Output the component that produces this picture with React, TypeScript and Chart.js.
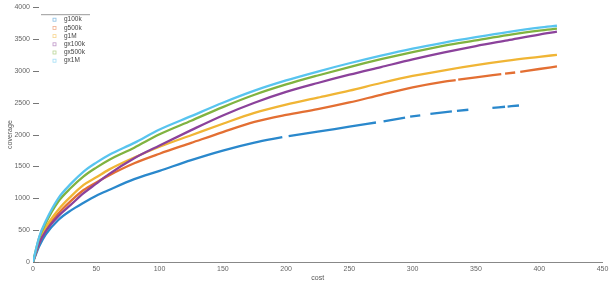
import React, { useEffect, useRef } from "react";
import { Chart, registerables } from "chart.js";

Chart.register(...registerables);

// ---- data ----
const seriesLabels = ["g100k", "g500k", "g1M", "gx100k", "gx500k", "gx1M"];
const seriesColors = ["#2a88cc", "#e36f33", "#f0b535", "#8b429b", "#80b340", "#58c4ef"];

const costs = [0, 5, 10, 20, 30, 40, 50, 60, 80, 100, 125, 150, 175, 200, 225, 250, 275, 300, 325, 350, 375, 400, 414];

const g1M = [0, 330, 540, 820, 1030, 1210, 1330, 1450, 1640, 1810, 1990, 2170, 2340, 2470, 2580, 2690, 2810, 2920, 3010, 3090, 3160, 3220, 3253];
const gx100k = [0, 300, 480, 720, 900, 1080, 1230, 1380, 1630, 1830, 2070, 2300, 2500, 2670, 2810, 2940, 3060, 3180, 3290, 3390, 3480, 3570, 3615];
const gx500k = [0, 385, 610, 950, 1165, 1345, 1482, 1602, 1795, 2005, 2218, 2432, 2625, 2787, 2928, 3060, 3183, 3296, 3398, 3480, 3562, 3633, 3662];
const gx1M = [0, 400, 640, 1000, 1230, 1420, 1560, 1680, 1870, 2080, 2290, 2500, 2690, 2850, 2990, 3120, 3240, 3350, 3445, 3530, 3610, 3680, 3709];

// series with gaps (null = gap)
const g100kCost = [0, 5, 10, 20, 30, 40, 50, 60, 80, 100, 125, 150, 175, 197, 199, 202, 225, 250, 271, 273, 277, 294, 296, 298, 306, 310, 314, 331, 333, 335, 344, 350, 363, 373, 374, 375, 384];
const g100k = [0, 250, 430, 660, 810, 930, 1040, 1130, 1300, 1430, 1600, 1750, 1875, 1960, null, 1975, 2045, 2125, 2190, null, 2206, 2268, null, 2282, 2303, null, 2325, 2365, null, 2372, 2390, null, 2420, 2437, null, 2440, 2457];

const g500kCost = [0, 5, 10, 20, 30, 40, 50, 60, 80, 100, 125, 150, 175, 200, 225, 250, 275, 300, 325, 334, 335, 336, 350, 370, 371, 373, 381, 383, 385, 400, 414];
const g500k = [0, 300, 500, 760, 960, 1130, 1250, 1360, 1550, 1700, 1870, 2040, 2200, 2310, 2400, 2505, 2625, 2740, 2830, 2855, null, 2862, 2900, 2950, null, 2956, 2975, null, 2985, 3030, 3070];

const xMin = 0, xMax = 450, xStep = 50;
const yMin = 0, yMax = 4000, yStep = 500;

const seriesX = [g100kCost, g500kCost, costs, costs, costs, costs];
const seriesY = [g100k, g500k, g1M, gx100k, gx500k, gx1M];

const FONT = "'Liberation Sans', Arial, Helvetica, sans-serif";

const yTickMarks = {
  id: "yTickMarks",
  afterDraw(chart: any) {
    const { ctx, chartArea } = chart;
    const ys = chart.scales.y;
    ctx.save();
    ctx.strokeStyle = "#777";
    ctx.lineWidth = 1;
    ys.ticks.forEach((t: any) => {
      const py = Math.round(ys.getPixelForValue(t.value)) + 0.5;
      ctx.beginPath();
      ctx.moveTo(chartArea.left, py);
      ctx.lineTo(chartArea.left + 6, py);
      ctx.stroke();
    });
    ctx.restore();
  },
};

const customLegend = {
  id: "customLegend",
  afterDraw(chart: any) {
    const { ctx, chartArea } = chart;
    const x0 = chartArea.left + 8;
    const y0 = chartArea.top + 7.5;
    ctx.save();
    ctx.strokeStyle = "#999";
    ctx.lineWidth = 1;
    ctx.beginPath();
    ctx.moveTo(x0, y0);
    ctx.lineTo(x0 + 49, y0);
    ctx.stroke();
    ctx.font = `6.5px ${FONT}`;
    ctx.textBaseline = "middle";
    ctx.textAlign = "left";
    chart.data.datasets.forEach((ds: any, i: number) => {
      const y = y0 + 5 + i * 8.2;
      ctx.strokeStyle = ds.borderColor;
      ctx.globalAlpha = 0.55;
      ctx.lineWidth = 0.8;
      ctx.strokeRect(x0 + 12, y - 1.5, 3, 3);
      ctx.globalAlpha = 1;
      ctx.fillStyle = "#444";
      ctx.fillText(ds.label, x0 + 23, y);
    });
    ctx.restore();
  },
};

export default function App() {
  const ref = useRef<HTMLCanvasElement | null>(null);

  useEffect(() => {
    if (!ref.current) return;
    const datasets = seriesLabels.map((label, i) => ({
      label,
      data: seriesX[i].map((x, j) => ({ x, y: seriesY[i][j] })),
      borderColor: seriesColors[i],
      backgroundColor: seriesColors[i],
      borderWidth: 2.3,
      pointRadius: 0,
      showLine: true,
      spanGaps: false,
      cubicInterpolationMode: "monotone" as const,
      order: seriesLabels.length - i,
    }));

    const chart = new Chart(ref.current, {
      type: "scatter",
      data: { datasets },
      plugins: [yTickMarks, customLegend],
      options: {
        animation: false,
        responsive: true,
        maintainAspectRatio: false,
        layout: { padding: { top: 7, right: 12.5, left: 0, bottom: 0 } },
        plugins: { legend: { display: false }, tooltip: { enabled: false } },
        scales: {
          x: {
            type: "linear",
            min: xMin,
            max: xMax,
            afterFit: (s: any) => { s.height = 23; },
            grid: { display: false, drawTicks: false },
            border: { display: true, color: "#888", width: 1 },
            ticks: { stepSize: xStep, padding: 3, color: "#666", font: { size: 7, family: FONT }, callback: (v: any) => String(v) },
            title: { display: true, text: "cost", color: "#555", font: { size: 7, family: FONT }, padding: { top: 0, bottom: 3 } },
          },
          y: {
            type: "linear",
            min: yMin,
            max: yMax,
            afterFit: (s: any) => { s.width = 33; },
            grid: { display: false, drawTicks: false },
            border: { display: false },
            ticks: { stepSize: yStep, padding: 3, color: "#666", font: { size: 7, family: FONT }, callback: (v: any) => String(v) },
            title: { display: true, text: "coverage", color: "#555", font: { size: 7, family: FONT }, padding: { top: 6, bottom: 0 } },
          },
        },
      },
    });
    return () => chart.destroy();
  }, []);

  return (
    <div style={{ position: "fixed", left: 0, top: 0, width: 615, height: 285, background: "#fff" }}>
      <canvas ref={ref} />
    </div>
  );
}
